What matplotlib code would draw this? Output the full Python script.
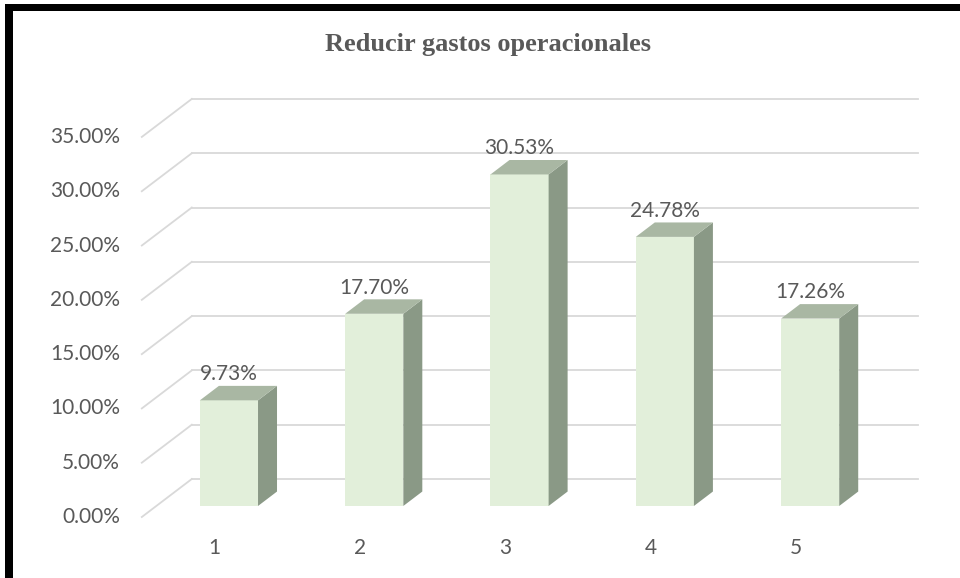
import matplotlib.pyplot as plt
from matplotlib.patches import Polygon, Rectangle

title = "Reducir gastos operacionales"
categories = ["1", "2", "3", "4", "5"]
values = [9.73, 17.70, 30.53, 24.78, 17.26]
yticks = [0, 5, 10, 15, 20, 25, 30, 35]

# oblique projection of the depth axis (data units for full floor depth)
depth_x, depth_y = 0.344, 3.5
bar_d0, bar_d1 = 0.29, 0.67
half_w = 0.2

front_col = "#E2EFDA"
side_col = "#8A9986"
top_col = "#A9B7A3"
grid_col = "#D9D9D9"
text_col = "#595959"

fig = plt.figure(figsize=(9.6, 5.78), dpi=100)
ax = fig.add_axes([0, 0, 1, 1])
ax.set_xlim(-0.476, 6.131)
ax.set_ylim(-5.617, 47.61)
ax.axis("off")

x_left = 0.5
x_right = len(categories) + 0.5

# wall gridlines: diagonal on the side wall, horizontal on the back wall
for t in yticks:
    ax.plot([x_left, x_left + depth_x], [t, t + depth_y], color=grid_col, lw=1.3, zorder=1)
    ax.plot([x_left + depth_x, x_right + depth_x], [t + depth_y, t + depth_y],
            color=grid_col, lw=1.3, zorder=1)
    ax.text(x_left - 0.15, t, f"{t:.2f}%", ha="right", va="center",
            fontsize=15, color=text_col, family="Lato")

for i, (cat, v) in enumerate(zip(categories, values)):
    c = i + 1
    fx = c - half_w + bar_d0 * depth_x
    fy = bar_d0 * depth_y
    bx = bar_d1 * depth_x - bar_d0 * depth_x
    by = bar_d1 * depth_y - bar_d0 * depth_y
    w = 2 * half_w
    ax.add_patch(Rectangle((fx, fy), w, v, facecolor=front_col, edgecolor="none", zorder=3))
    ax.add_patch(Polygon([(fx + w, fy), (fx + w + bx, fy + by), (fx + w + bx, fy + by + v),
                          (fx + w, fy + v)], closed=True, facecolor=side_col,
                         edgecolor="none", zorder=3))
    ax.add_patch(Polygon([(fx, fy + v), (fx + w, fy + v), (fx + w + bx, fy + by + v),
                          (fx + bx, fy + by + v)], closed=True, facecolor=top_col,
                         edgecolor="none", zorder=3))
    ax.text(c + bar_d0 * depth_x, v + fy + 2.4, f"{v:.2f}%", ha="center", va="center",
            fontsize=15, color=text_col, family="Lato", zorder=4)
    ax.text(c, -2.85, cat, ha="center", va="center", fontsize=15,
            color=text_col, family="Lato")

fig.text(0.508, 1 - 45 / 578, title, ha="center", va="center", fontsize=19,
         fontweight="bold", color=text_col, family="Liberation Serif")

# black frame on the left and top of the image
fig.patches.append(Rectangle((5 / 960, 0), 8 / 960, 1 - 4 / 578, transform=fig.transFigure,
                             facecolor="black", edgecolor="none"))
fig.patches.append(Rectangle((5 / 960, 1 - 11 / 578), 1, 7 / 578, transform=fig.transFigure,
                             facecolor="black", edgecolor="none"))

fig.savefig("out.png", dpi=100)
